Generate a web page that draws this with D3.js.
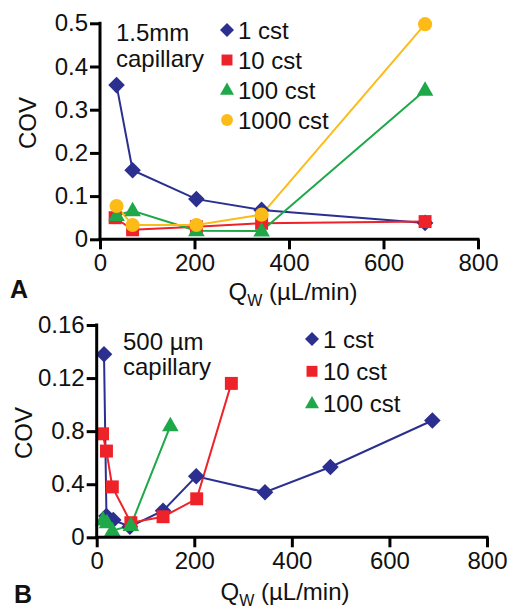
<!DOCTYPE html>
<html><head><meta charset="utf-8">
<script src="https://cdn.jsdelivr.net/npm/d3@7"></script>
<style>
body{margin:0;background:#fff;}
svg{display:block;font-family:"Liberation Sans",Arial,sans-serif;}
</style></head>
<body><svg id="c" width="510" height="610"></svg>
<script>
// ---- Panel A data (1.5mm capillary) ----
const seriesNamesA = ["1 cst","10 cst","100 cst","1000 cst"];
const a1x = [35, 69, 204, 342, 688];
const a1y = [0.357, 0.160, 0.093, 0.068, 0.038];
const a10x = [32, 69, 204, 342, 688];
const a10y = [0.050, 0.022, 0.029, 0.037, 0.041];
const a100x = [35, 69, 204, 342, 688];
const a100y = [0.055, 0.066, 0.020, 0.019, 0.345];
const a1000x = [35, 69, 204, 342, 688];
const a1000y = [0.077, 0.033, 0.033, 0.057, 0.498];
const xTicksA = [0, 200, 400, 600, 800];
const yTicksA = [0, 0.1, 0.2, 0.3, 0.4, 0.5];
const yTickLabelsA = ["0","0.1","0.2","0.3","0.4","0.5"];

// ---- Panel B data (500 µm capillary) ----
const seriesNamesB = ["1 cst","10 cst","100 cst"];
const b1x = [15, 20, 34, 68, 136, 204, 345, 479, 688];
const b1y = [0.138, 0.016, 0.013, 0.008, 0.020, 0.046, 0.034, 0.053, 0.088];
const b10x = [12, 20, 32, 70, 136, 205, 276];
const b10y = [0.078, 0.065, 0.038, 0.011, 0.0155, 0.029, 0.116];
const b100x = [13, 21, 32, 70, 151];
const b100y = [0.013, 0.011, 0.005, 0.009, 0.084];
const xTicksB = [0, 200, 400, 600, 800];
const yTicksB = [0, 0.04, 0.08, 0.12, 0.16];
const yTickLabelsB = ["0","0.4","0.8","0.12","0.16"];

const colors = ["#2b2f8f","#ee2229","#1fa849","#fdbb18"];
const shapes = ["diamond","square","triangle","circle"];
const FS = "24px";

const svg = d3.select("#c");

function marker(g, shape, x, y, s, color){
  let p;
  if(shape==="diamond"){
    p = g.append("path").attr("d", `M${x},${y-s}L${x+s},${y}L${x},${y+s}L${x-s},${y}Z`);
  } else if(shape==="square"){
    p = g.append("rect").attr("x", x-s*0.78).attr("y", y-s*0.78).attr("width", s*1.56).attr("height", s*1.56);
  } else if(shape==="triangle"){
    const h = s*1.75;
    p = g.append("path").attr("d", `M${x},${y-h*0.62}L${x+s},${y+h*0.38}L${x-s},${y+h*0.38}Z`);
  } else {
    p = g.append("circle").attr("cx", x).attr("cy", y).attr("r", s*0.85);
  }
  p.attr("fill", color);
}

function panel(opt){
  const x = d3.scaleLinear().domain([0,800]).range(opt.xr);
  const y = d3.scaleLinear().domain(opt.yd).range(opt.yr);
  const g = svg.append("g");

  opt.series.forEach((s,i)=>{
    const pts = s.xs.map((v,k)=>[x(v), y(s.ys[k])]);
    g.append("path").attr("d", d3.line()(pts)).attr("fill","none")
      .attr("stroke", colors[i]).attr("stroke-width", 2);
  });
  opt.series.forEach((s,i)=>{
    s.xs.forEach((v,k)=> marker(g, shapes[i], x(v), y(s.ys[k]), 8.3, colors[i]));
  });

  const ax = g.append("g").attr("transform", `translate(0,${opt.yr[0]})`)
    .call(d3.axisBottom(x).tickValues(opt.xt).tickSize(10).tickSizeOuter(0).tickPadding(5).tickFormat(d3.format("d")));
  const ay = g.append("g").attr("transform", `translate(${opt.xr[0]},0)`)
    .call(d3.axisLeft(y).tickValues(opt.yt).tickSize(10).tickSizeOuter(0).tickPadding(2)
      .tickFormat((d,i)=>opt.ytl[i]));
  [ax, ay].forEach(a=>{
    a.select(".domain").attr("stroke","#000").attr("stroke-width",3);
    a.selectAll(".tick line").attr("stroke","#000").attr("stroke-width",3);
    a.selectAll(".tick text").attr("fill","#111").style("font-size",FS)
      .style("font-family",'"Liberation Sans",Arial,sans-serif');
  });
  ax.select(".domain").attr("d", `M${opt.xr[0]-1.5},0H${opt.xr[1]+1.5}`);
  ay.select(".domain").attr("d", `M0,${opt.yr[1]-1.5}V${opt.yr[0]}`);

  g.append("text").attr("transform", `translate(${opt.ylab[0]},${opt.ylab[1]}) rotate(-90)`)
    .attr("text-anchor","middle").attr("dominant-baseline","central")
    .style("font-size",FS).attr("fill","#111").text("COV");
  const xl = g.append("text").attr("x", opt.xlab[0]).attr("y", opt.xlab[1])
    .attr("text-anchor","middle").style("font-size",FS).attr("fill","#111");
  xl.append("tspan").text("Q");
  xl.append("tspan").attr("dy", 6).style("font-size","16px").text("W");
  xl.append("tspan").attr("dy", -6).text(" (µL/min)");
  g.append("text").attr("x", opt.letter[0]).attr("y", opt.letter[1])
    .style("font-size","25px").style("font-weight","bold").attr("fill","#111").text(opt.letterText);
  opt.note.forEach((t,i)=>{
    g.append("text").attr("x", opt.noteXY[0]).attr("y", opt.noteXY[1] + i*opt.noteDy)
      .style("font-size",FS).attr("fill","#111").text(t);
  });
  opt.names.forEach((n,i)=>{
    const ly = opt.leg[1] + i*opt.legDy;
    marker(g, shapes[i], opt.leg[0], ly, 7, colors[i]);
    g.append("text").attr("x", opt.leg[0]+11).attr("y", ly).attr("dominant-baseline","central")
      .style("font-size",FS).attr("fill","#111").text(n);
  });
}

panel({
  xr:[100,478], yr:[239.3,23.3], yd:[0,0.5], xt:xTicksA, yt:yTicksA, ytl:yTickLabelsA,
  series:[{xs:a1x,ys:a1y},{xs:a10x,ys:a10y},{xs:a100x,ys:a100y},{xs:a1000x,ys:a1000y}],
  ylab:[27,123], xlab:[293,300], letter:[10,298], letterText:"A",
  note:["1.5mm","capillary"], noteXY:[116,41], noteDy:26,
  names:seriesNamesA, leg:[227,30], legDy:30
});
panel({
  xr:[96.7,487], yr:[537.3,325], yd:[0,0.16], xt:xTicksB, yt:yTicksB, ytl:yTickLabelsB,
  series:[{xs:b1x,ys:b1y},{xs:b10x,ys:b10y},{xs:b100x,ys:b100y}],
  ylab:[23,433], xlab:[285,600], letter:[14,603], letterText:"B",
  note:["500 µm","capillary"], noteXY:[123,350], noteDy:25,
  names:seriesNamesB, leg:[312,339], legDy:32.3
});
</script></body></html>
